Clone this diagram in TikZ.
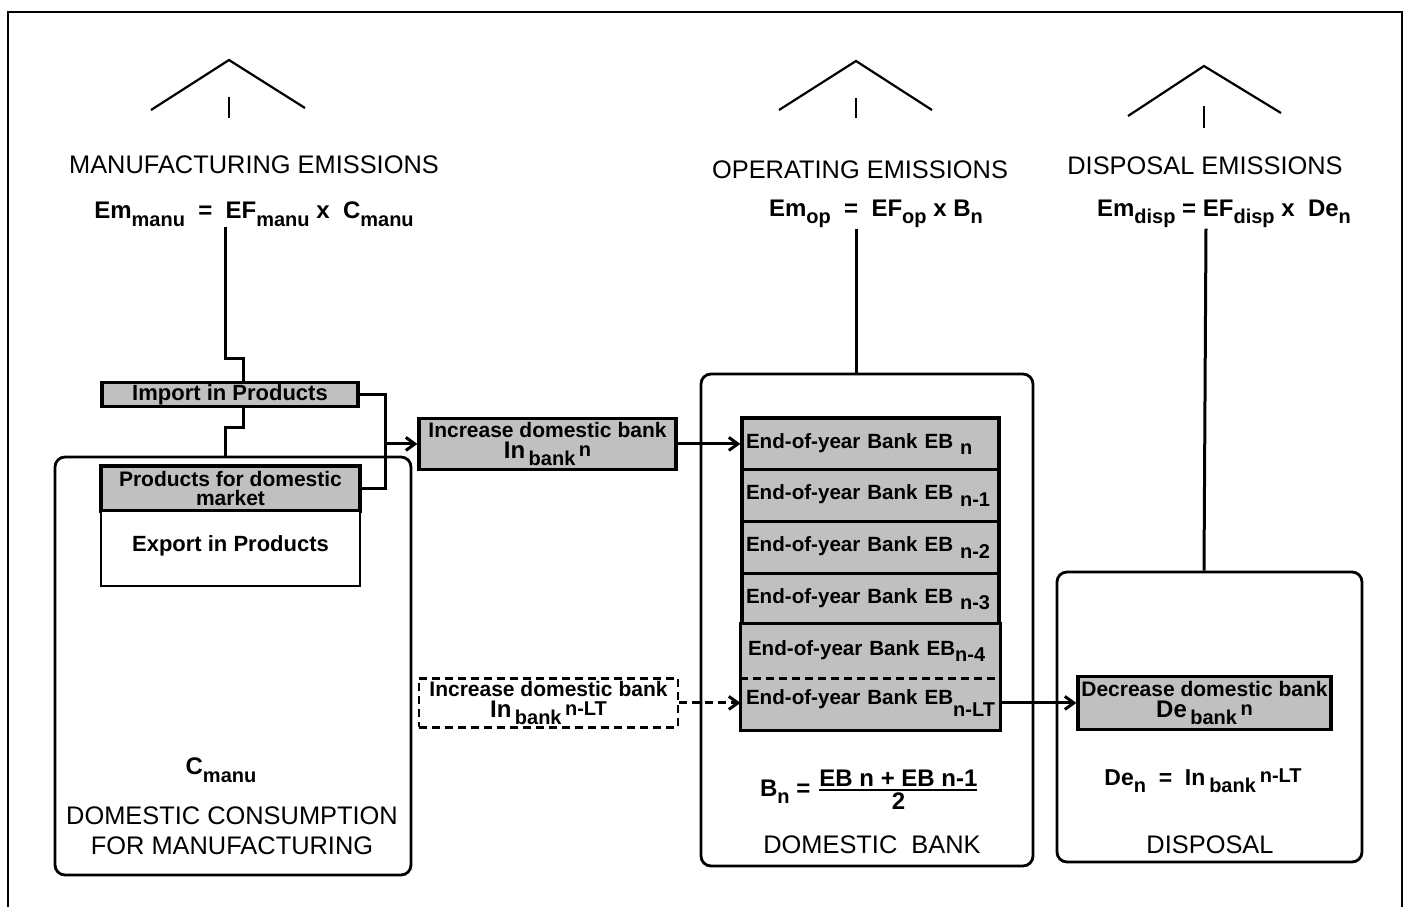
\documentclass[tikz,border=0pt]{standalone}
\usepackage{fontspec}
\setmainfont{Liberation Sans}
\usetikzlibrary{arrows.meta}
\definecolor{boxgray}{RGB}{192,192,192}
\newcommand{\dn}[1]{\raisebox{-0.6ex}{\fontsize{10}{10}\selectfont #1}}
\newcommand{\up}[1]{\raisebox{0.2ex}{\fontsize{10}{10}\selectfont #1}}
\tikzset{
  graybox/.style={draw, line width=1.6pt, fill=boxgray, inner sep=0pt, align=center,
    font=\bfseries\fontsize{10.5}{10.5}\selectfont},
  ebbox/.style={graybox, inner xsep=2pt, text width=124.5pt, align=left,
    minimum height=25.9pt, font=\bfseries\fontsize{10.3}{10.5}\selectfont},
  whitebox/.style={draw, line width=1pt, fill=white, inner sep=0pt, align=center,
    font=\bfseries\fontsize{11}{11}\selectfont},
  area/.style={draw, line width=1.4pt, rounded corners=5pt, inner sep=0pt},
  title/.style={font=\fontsize{12.7}{15}\selectfont, inner sep=0pt, align=center},
  formula/.style={font=\bfseries\fontsize{12}{12}\selectfont, inner sep=0pt},
  link/.style={line width=1.5pt},
  arr/.style={line width=1.5pt, -{Straight Barb[length=4.5pt,width=6.5pt]}},
}

\begin{document}
\begin{tikzpicture}[x=0.5pt, y=-0.5pt]
\useasboundingbox (0,0) rectangle (1410,907);
\draw[line width=1pt] (8,907) -- (8,12) -- (1402,12) -- (1402,907);

% chimneys
\draw[line width=1.1pt] (151,110) -- (229,60) -- (305,108);
\draw[line width=1.1pt] (229,97) -- (229,118);
\draw[line width=1.1pt] (779,110) -- (856,61) -- (932,110);
\draw[line width=1.1pt] (856,98) -- (856,118);
\draw[line width=1.1pt] (1128,116) -- (1204,66) -- (1281,113);
\draw[line width=1.1pt] (1204,106) -- (1204,128);

% emissions
\node[title] (t1) at (254,165) {MANUFACTURING EMISSIONS};
\node[formula] (f1) at (254,214) {Em\dn{manu}\ \ =\ \ EF\dn{manu}\ x\ \ C\dn{manu}};
\node[title] (t2) at (860,170) {OPERATING EMISSIONS};
\node[formula] (f2) at (876,214) {Em\dn{op}\ \ =\ \ EF\dn{op}\ x\ B\dn{n}};
\node[title] (t3) at (1205,166) {DISPOSAL EMISSIONS};
\node[formula] (f3) at (1224,214) {Em\dn{disp}\ =\ EF\dn{disp}\ x\ \ De\dn{n}};

% areas
\node[area, minimum width=178pt, minimum height=209pt] (cons) at (233,666) {};
\node[area, minimum width=166pt, minimum height=246pt] (bank) at (867,620) {};
\node[area, minimum width=152.5pt, minimum height=145pt] (disp) at (1209.5,717) {};

% manufacturing
\node[graybox, font=\bfseries\fontsize{11}{11}\selectfont, minimum width=128pt, minimum height=12pt] (imp) at (230,394.5) {Import in Products};
\node[graybox, font=\bfseries\fontsize{10.5}{9.5}\selectfont, minimum width=129.5pt, minimum height=22.5pt] (prod) at (230.5,488.5) {Products for domestic\\market};
\node[whitebox, minimum width=129.5pt, minimum height=37.5pt, text depth=5pt] (exp) at (230.5,548.5) {Export in Products};
\node[formula] (cmanu) at (221,770) {C\dn{manu}};
\node[title] (constitle) at (232,831) {DOMESTIC CONSUMPTION\\FOR MANUFACTURING};

% inflows
\node[graybox, minimum width=128.5pt, minimum height=25.5pt] (incr) at (547.5,443.9) {Increase domestic bank\\{\fontsize{12}{12}\selectfont In}\,\dn{bank}\,\up{n}};
\node[draw, dash pattern=on 4pt off 2.5pt, line width=1.3pt, fill=white, inner sep=0pt, align=center,
  font=\bfseries\fontsize{10.5}{10.5}\selectfont, minimum width=129.5pt, minimum height=24.5pt] (incrlt) at (548.5,702.9) {Increase domestic bank\\{\fontsize{12}{12}\selectfont In}\,\dn{bank}\,\up{n-LT}};

% bank stack
\node[ebbox] (eb0) at (870.5,443.9) {End-of-year Bank EB \dn{n}};
\node[ebbox] (eb1) at (870.5,495.7) {End-of-year Bank EB \dn{n-1}};
\node[ebbox] (eb2) at (870.5,547.5) {End-of-year Bank EB \dn{n-2}};
\node[ebbox] (eb3) at (870.5,599.3) {End-of-year Bank EB \dn{n-3}};
\node[ebbox, draw=none] (eb4) at (870.5,651.1) {\mbox{\hspace{1pt}End-of-year Bank EB\dn{n-4}}};
\node[ebbox, draw=none] (ebl) at (870.5,702.9) {\mbox{End-of-year Bank EB\raisebox{-1.1ex}{\fontsize{10}{10}\selectfont n-LT}}};
\draw[line width=1.6pt] (eb4.south west) -- (eb4.north west) -- (eb4.north east) -- (eb4.south east);
\draw[line width=1.6pt] (ebl.north west) -- (ebl.south west) -- (ebl.south east) -- (ebl.north east);
\draw[line width=1.3pt, dash pattern=on 4pt off 2.5pt] (eb4.south west) -- (eb4.south east);
\node[formula, font=\bfseries\fontsize{12}{12}\selectfont] (bn) at (870,790) {B\dn{n}\ =\ ${\hbox{EB n + EB n-1}\above 1pt\hbox{2}}$};
\node[title] (banktitle) at (872,845) {DOMESTIC\ \ BANK};

% disposal
\node[graybox, minimum width=126.5pt, minimum height=26.5pt] (decr) at (1204.5,702.9) {Decrease domestic bank\\{\fontsize{12}{12}\selectfont De}\,\dn{bank}\,\up{n}};
\node[formula, font=\bfseries\fontsize{11.5}{11.5}\selectfont] (den) at (1203,781) {De\dn{n}\ \ =\ \ In\,\dn{bank}\,\up{n-LT}};
\node[title] (disptitle) at (1210,845) {DISPOSAL};

% connectors
\draw[link] ([xshift=-14.5pt]f1.south) |- (243,358) -- ([xshift=6.5pt]imp.north);
\draw[link] ([xshift=6.5pt]imp.south) |- (225,427) -- ([xshift=-4pt]cons.north);
\coordinate (jn) at (385,443.9);
\draw[link] (imp.east) -| (jn) |- (prod.east);
\draw[arr] (jn) -- (incr.west);
\draw[arr] (incr.east) -- (eb0.west);
\draw[arr, dash pattern=on 4pt off 2.5pt] (incrlt.east) -- (ebl.west);
\draw[arr] (ebl.east) -- (decr.west);
\draw[link] ([xshift=-10pt]f2.south) -- ([xshift=-5.5pt]bank.north);
\draw[link] ([xshift=-9pt]f3.south) -- ([xshift=-2.75pt]disp.north);
\end{tikzpicture}
\end{document}
